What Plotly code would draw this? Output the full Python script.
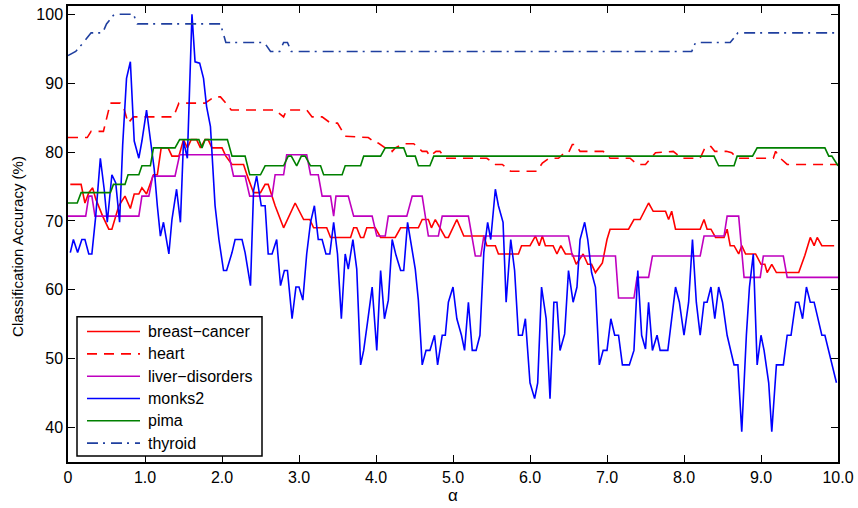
import plotly.graph_objects as go

# ---- data: classification accuracy (%) versus alpha ----
bc_x = [0.03, 0.17, 0.22, 0.27, 0.32, 0.36, 0.45, 0.53, 0.57, 0.66, 0.74, 0.81, 0.86, 0.92, 0.96, 1.02,
        1.11, 1.16, 1.21, 1.3, 1.35, 1.44, 1.5, 1.55, 1.6, 1.67, 1.72, 1.78, 1.82, 1.87, 2.0, 2.05,
        2.13, 2.28, 2.33, 2.41, 2.5, 2.56, 2.6, 2.69, 2.8, 2.95, 3.06, 3.14, 3.19, 3.36, 3.41, 3.67,
        3.71, 3.75, 3.8, 3.84, 3.88, 3.99, 4.06, 4.25, 4.32, 4.55, 4.6, 4.68, 4.72, 4.77, 4.9, 4.94,
        5.05, 5.14, 5.4, 5.44, 5.55, 5.59, 5.85, 5.89, 6.0, 6.07, 6.12, 6.16, 6.2, 6.3, 6.35, 6.4,
        6.46, 6.55, 6.6, 6.69, 6.75, 6.8, 6.85, 6.94, 7.0, 7.04, 7.28, 7.35, 7.43, 7.54, 7.6, 7.76,
        7.8, 7.84, 7.89, 8.21, 8.26, 8.3, 8.35, 8.41, 8.52, 8.56, 8.6, 8.65, 8.71, 8.75, 8.8, 8.93,
        9.0, 9.05, 9.08, 9.14, 9.2, 9.49, 9.57, 9.64, 9.69, 9.73, 9.79, 9.95]
bc_y = [75.3, 75.3, 72.6, 74.1, 74.8, 73.2, 70.7, 68.8, 68.8, 72.2, 73.6, 71.8, 73.9, 73.9, 74.8, 73.9,
        76.7, 76.7, 80.6, 80.6, 79.4, 79.4, 81.8, 80.6, 81.8, 81.8, 80.6, 81.8, 81.8, 80.6, 80.6, 79.4,
        78.2, 78.2, 76.5, 74.1, 74.1, 75.3, 75.3, 72.2, 69.0, 72.6, 70.2, 70.2, 69.0, 69.0, 67.6, 67.6,
        69.0, 69.0, 67.6, 67.6, 69.0, 69.0, 67.6, 67.6, 69.0, 69.0, 70.2, 70.2, 69.0, 70.2, 67.6, 67.6,
        70.2, 67.8, 67.8, 66.4, 66.4, 65.2, 65.2, 66.4, 66.4, 67.8, 66.4, 67.8, 66.4, 66.4, 65.2, 66.4,
        65.2, 65.2, 63.7, 65.2, 63.7, 63.7, 62.5, 63.9, 67.3, 68.8, 68.8, 70.2, 70.2, 72.6, 71.4, 71.4,
        70.2, 71.4, 68.8, 68.8, 70.2, 68.8, 68.8, 67.6, 67.6, 68.8, 66.4, 66.4, 65.2, 66.4, 65.2, 65.2,
        63.7, 63.7, 62.5, 63.7, 62.5, 62.5, 65.0, 67.6, 66.4, 67.6, 66.4, 66.4]

heart_x = [0.0, 0.25, 0.3, 0.46, 0.55, 0.68, 0.72, 0.78, 0.85, 1.37, 1.44, 1.78, 1.9, 1.98, 2.05, 2.12,
           2.69, 2.8, 2.84, 3.1, 3.17, 3.3, 3.41, 3.5, 3.6, 3.9, 4.0, 4.03, 4.12, 4.18, 4.21, 4.25,
           4.36, 4.49, 4.6, 4.66, 4.7, 4.78, 4.83, 4.9, 5.44, 5.55, 5.64, 5.75, 6.09, 6.16, 6.25, 6.37,
           6.45, 6.5, 6.55, 6.59, 6.65, 6.95, 7.04, 7.3, 7.39, 7.5, 7.63, 7.86, 7.97, 8.21, 8.28, 8.35,
           8.4, 8.55, 8.62, 8.69, 9.16, 9.19, 9.25, 9.34, 10.0]
heart_y = [82.1, 82.1, 83.0, 83.0, 87.1, 87.1, 86.6, 84.2, 85.1, 85.1, 87.1, 87.1, 88.0, 88.0, 87.1, 86.1,
           86.1, 85.1, 86.1, 86.1, 85.1, 85.1, 84.2, 84.2, 82.3, 82.1, 81.3, 81.3, 80.6, 80.6, 80.1, 80.6,
           81.2, 81.2, 80.1, 80.1, 79.4, 80.1, 80.1, 79.1, 79.1, 78.2, 78.2, 77.2, 77.2, 78.4, 79.1, 79.1,
           79.9, 79.9, 81.1, 81.1, 80.1, 80.1, 79.1, 79.1, 78.2, 78.2, 79.9, 80.1, 79.1, 79.1, 80.8, 80.8,
           80.1, 80.1, 79.9, 79.1, 79.1, 80.1, 79.1, 78.2, 78.2]

liver_x = [0.0, 0.23, 0.27, 0.31, 0.35, 0.92, 0.96, 1.05, 1.1, 1.39, 1.45, 2.09, 2.15, 2.3, 2.36, 2.65,
           2.69, 2.8, 2.84, 3.1, 3.15, 3.25, 3.3, 3.41, 3.45, 3.48, 3.64, 3.71, 3.95, 4.01, 4.12, 4.16,
           4.4, 4.47, 4.6, 4.68, 4.81, 4.86, 5.2, 5.29, 5.36, 5.4, 6.5, 6.55, 7.11, 7.15, 7.35, 7.39,
           7.54, 7.59, 8.21, 8.26, 8.52, 8.56, 8.71, 8.78, 8.99, 9.03, 9.29, 9.34, 10.0]
liver_y = [70.7, 70.7, 73.6, 73.6, 70.7, 70.7, 73.6, 73.6, 76.5, 76.5, 79.6, 79.6, 76.5, 76.5, 73.6, 73.6,
           76.7, 76.7, 79.6, 79.6, 76.7, 76.7, 73.6, 73.6, 70.7, 73.6, 73.6, 70.7, 70.7, 67.8, 67.8, 70.7,
           70.7, 73.6, 73.6, 67.8, 67.8, 70.7, 70.7, 64.9, 64.9, 67.8, 67.8, 64.9, 64.9, 58.8, 58.8, 61.8,
           61.8, 64.9, 64.9, 67.8, 67.8, 70.7, 70.7, 61.8, 61.8, 64.9, 64.9, 61.8, 61.8]

monks_x = [0.03, 0.07, 0.125, 0.18, 0.22, 0.27, 0.31, 0.36, 0.42, 0.47, 0.51, 0.57, 0.62, 0.67, 0.71, 0.76,
           0.81, 0.86, 0.92, 0.96, 1.02, 1.07, 1.12, 1.16, 1.2, 1.24, 1.31, 1.35, 1.41, 1.46, 1.5, 1.55,
           1.61, 1.65, 1.71, 1.76, 1.8, 1.85, 1.91, 1.96, 2.02, 2.06, 2.13, 2.17, 2.26, 2.3, 2.37, 2.41,
           2.45, 2.51, 2.56, 2.6, 2.65, 2.71, 2.76, 2.81, 2.85, 2.91, 2.96, 3.0, 3.05, 3.1, 3.15, 3.2,
           3.25, 3.3, 3.35, 3.4, 3.45, 3.5, 3.55, 3.6, 3.64, 3.7, 3.75, 3.8, 3.84, 3.89, 3.95, 4.01,
           4.06, 4.11, 4.16, 4.21, 4.26, 4.32, 4.36, 4.41, 4.45, 4.51, 4.55, 4.6, 4.65, 4.7, 4.76, 4.8,
           4.86, 4.9, 4.94, 5.0, 5.05, 5.11, 5.15, 5.2, 5.25, 5.3, 5.35, 5.4, 5.45, 5.49, 5.55, 5.59,
           5.65, 5.69, 5.75, 5.8, 5.85, 5.9, 5.94, 6.0, 6.06, 6.1, 6.15, 6.21, 6.26, 6.31, 6.35, 6.39,
           6.45, 6.5, 6.56, 6.61, 6.65, 6.71, 6.75, 6.8, 6.85, 6.9, 6.95, 7.0, 7.05, 7.1, 7.15, 7.2,
           7.29, 7.35, 7.4, 7.45, 7.5, 7.54, 7.59, 7.65, 7.69, 7.79, 7.89, 7.94, 8.0, 8.06, 8.11, 8.16,
           8.21, 8.26, 8.3, 8.35, 8.4, 8.45, 8.5, 8.56, 8.65, 8.7, 8.75, 8.81, 8.85, 8.9, 8.95, 9.0,
           9.04, 9.1, 9.14, 9.2, 9.29, 9.34, 9.39, 9.45, 9.49, 9.54, 9.59, 9.64, 9.69, 9.74, 9.79, 9.83,
           9.88, 9.92, 9.98]
monks_y = [65.4, 67.3, 65.4, 67.3, 67.3, 65.2, 65.2, 70.7, 79.1, 74.6, 69.8, 76.7, 75.5, 69.8, 81.0, 90.7,
           93.1, 81.6, 79.1, 81.6, 86.1, 81.8, 77.5, 72.2, 67.8, 69.8, 65.2, 70.2, 74.6, 69.8, 81.6, 79.1,
           100.0, 93.1, 92.9, 90.7, 86.6, 83.7, 72.2, 67.3, 62.8, 62.8, 65.4, 67.3, 67.3, 65.4, 60.6, 74.4,
           76.5, 72.2, 72.2, 65.2, 65.2, 67.3, 60.6, 62.8, 62.8, 55.8, 60.4, 60.4, 58.5, 65.2, 69.8, 72.2,
           67.3, 67.3, 65.2, 65.2, 69.8, 65.2, 55.8, 65.2, 63.0, 67.3, 63.0, 49.1, 51.2, 55.3, 60.4, 51.2,
           62.8, 55.8, 58.5, 67.3, 65.0, 62.8, 62.8, 69.8, 67.3, 63.0, 58.5, 49.1, 51.2, 51.2, 53.4, 49.1,
           53.4, 53.4, 58.2, 60.4, 55.8, 53.4, 51.2, 58.2, 51.2, 51.2, 53.4, 65.4, 69.8, 67.3, 74.6, 72.2,
           69.8, 58.2, 67.3, 62.8, 53.4, 53.4, 55.8, 46.5, 44.2, 46.5, 60.4, 55.8, 44.2, 58.2, 58.2, 51.2,
           53.6, 62.8, 58.2, 60.4, 67.3, 69.8, 67.3, 62.5, 60.4, 49.1, 51.2, 51.2, 55.8, 53.4, 53.4, 49.1,
           49.1, 51.2, 62.8, 53.4, 51.4, 58.2, 51.2, 53.4, 51.2, 51.2, 60.4, 58.2, 53.4, 58.2, 67.3, 58.2,
           53.4, 58.2, 58.2, 60.4, 55.8, 60.4, 58.2, 53.4, 49.1, 49.1, 39.4, 53.4, 60.4, 65.2, 49.1, 53.4,
           51.2, 46.5, 39.4, 49.1, 49.1, 53.4, 53.4, 58.2, 58.2, 55.8, 60.4, 58.2, 58.2, 55.8, 53.4, 53.4,
           51.2, 49.1, 46.5]

pima_x = [0.0, 0.12, 0.17, 0.55, 0.59, 0.74, 0.78, 0.92, 0.96, 1.07, 1.11, 1.39, 1.45, 1.7, 1.74, 1.78,
          2.07, 2.13, 2.3, 2.36, 2.5, 2.56, 2.8, 2.86, 2.9, 2.97, 3.03, 3.08, 3.15, 3.28, 3.32, 3.56,
          3.6, 3.8, 3.84, 4.06, 4.12, 4.36, 4.4, 4.51, 4.55, 4.7, 4.75, 8.39, 8.45, 8.65, 8.69, 8.89,
          8.95, 9.83, 9.88, 9.92, 10.0]
pima_y = [72.6, 72.6, 74.1, 74.1, 75.3, 75.3, 76.7, 76.7, 78.0, 78.0, 80.6, 80.6, 81.8, 81.8, 80.6, 81.8,
          81.8, 79.4, 79.4, 76.7, 76.7, 78.0, 78.0, 79.4, 79.4, 78.0, 79.4, 79.4, 78.0, 78.0, 76.7, 76.7,
          78.0, 78.0, 79.4, 79.4, 80.6, 80.6, 79.4, 79.4, 78.0, 78.0, 79.4, 79.4, 78.0, 78.0, 79.4, 79.4,
          80.6, 80.6, 79.4, 79.4, 78.0]

thyroid_x = [0.0, 0.1, 0.2, 0.3, 0.45, 0.5, 0.6, 0.85, 0.9, 1.98, 2.05, 2.55, 2.63, 2.75, 2.8, 2.85,
             2.9, 8.1, 8.15, 8.6, 8.7, 10.0]
thyroid_y = [94.0, 94.6, 95.9, 97.3, 97.3, 98.6, 100.0, 100.0, 98.6, 98.6, 95.9, 95.9, 94.6, 94.6, 95.9, 95.9,
             94.6, 94.6, 95.9, 95.9, 97.3, 97.3]

x_ticks = [0, 1, 2, 3, 4, 5, 6, 7, 8, 9, 10]
x_tick_text = ["0", "1.0", "2.0", "3.0", "4.0", "5.0", "6.0", "7.0", "8.0", "9.0", "10.0"]
y_ticks = [40, 50, 60, 70, 80, 90, 100]

series = [
    ("breast\u2212cancer", bc_x, bc_y, "#ff0000", "solid"),
    ("heart", heart_x, heart_y, "#ff0000", "10px,7px"),
    ("liver\u2212disorders", liver_x, liver_y, "#bf00bf", "solid"),
    ("monks2", monks_x, monks_y, "#0000ff", "solid"),
    ("pima", pima_x, pima_y, "#008000", "solid"),
    ("thyroid", thyroid_x, thyroid_y, "#1f3f9f", "11px,5px,2px,6px"),
]

FONT = "Liberation Sans, Arial, sans-serif"
LINE_W = 1.6

# plot-area geometry in pixels, used to lay out the key box
W, H = 858, 508
ML, MR, MT, MB = 68, 20, 4, 46
PW, PH = W - ML - MR, H - MT - MB


def px_x(p):
    return (p - ML) / PW


def px_y(p):
    return (H - MB - p) / PH


fig = go.Figure()
for name, xs, ys, color, dash in series:
    fig.add_trace(go.Scatter(x=xs, y=ys, mode="lines", name=name, showlegend=False,
                             line=dict(color=color, width=LINE_W, dash=dash)))

axis_common = dict(showgrid=False, zeroline=False, showline=True, linecolor="black",
                   linewidth=1.5, mirror="ticks", ticks="inside", ticklen=7,
                   tickcolor="black", tickwidth=1,
                   tickfont=dict(family=FONT, size=16, color="black"))

fig.update_xaxes(range=[0, 10], tickvals=x_ticks, ticktext=x_tick_text, **axis_common)
fig.update_yaxes(range=[35, 101.2], tickvals=y_ticks, **axis_common)

# key: framed box with a line sample and label per series
shapes = [dict(type="rect", xref="paper", yref="paper",
               x0=px_x(77), x1=px_x(262), y0=px_y(456), y1=px_y(316),
               line=dict(color="black", width=1.5), fillcolor="white", layer="above")]
annotations = []
row_top, row_step = 331, 22.4
for i, (name, _, _, color, dash) in enumerate(series):
    yr = px_y(row_top + i * row_step)
    shapes.append(dict(type="line", xref="paper", yref="paper",
                       x0=px_x(87), x1=px_x(140), y0=yr, y1=yr, layer="above",
                       line=dict(color=color, width=LINE_W, dash=dash)))
    annotations.append(dict(text=name, xref="paper", yref="paper", x=px_x(146), y=yr,
                            xanchor="left", yanchor="middle", showarrow=False,
                            font=dict(family=FONT, size=16, color="black")))

annotations += [
    dict(text="Classification Accuracy (%)", textangle=-90, xref="paper", yref="paper",
         x=px_x(18), y=px_y(246), xanchor="center", yanchor="middle", showarrow=False,
         font=dict(family=FONT, size=15, color="black")),
    dict(text="\u03b1", xref="x", yref="paper", x=5, y=0, yanchor="top", yshift=-22,
         showarrow=False, font=dict(family=FONT, size=17, color="black")),
]

fig.update_layout(
    width=W, height=H,
    margin=dict(l=ML, r=MR, t=MT, b=MB),
    paper_bgcolor="white", plot_bgcolor="white",
    font=dict(family=FONT, size=16, color="black"),
    showlegend=False,
    shapes=shapes,
    annotations=annotations,
)

fig.write_html("out.html")
